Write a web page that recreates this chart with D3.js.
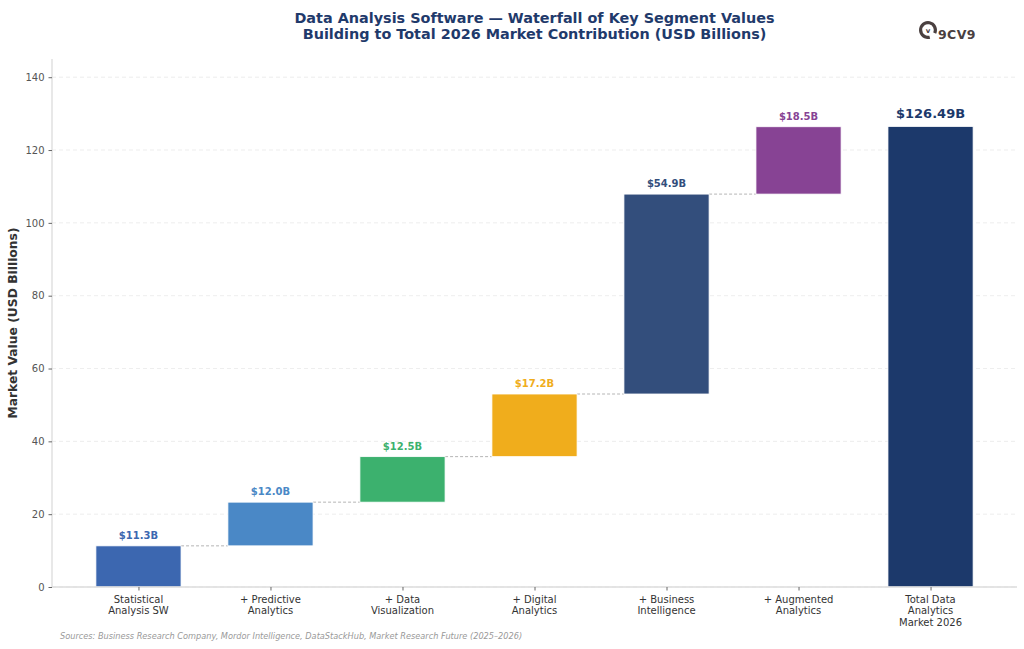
<!DOCTYPE html>
<html>
<head>
<meta charset="utf-8">
<script src="https://cdn.jsdelivr.net/npm/d3@7"></script>
<style>
  body { margin: 0; background: #fff; }
  svg { display: block; font-family: "DejaVu Sans", sans-serif; }
</style>
</head>
<body>
<svg id="chart" width="1024" height="649"></svg>
<script>
// data
const categories = [
  ["Statistical", "Analysis SW"],
  ["+ Predictive", "Analytics"],
  ["+ Data", "Visualization"],
  ["+ Digital", "Analytics"],
  ["+ Business", "Intelligence"],
  ["+ Augmented", "Analytics"],
  ["Total Data", "Analytics", "Market 2026"]
];
const segmentValues = [11.3, 12.0, 12.5, 17.2, 54.9, 18.5];
const totalValue = 126.49;
const valueLabels = ["$11.3B", "$12.0B", "$12.5B", "$17.2B", "$54.9B", "$18.5B", "$126.49B"];
const barColors = ["#3c67b0", "#4a88c6", "#3cb16e", "#f0ad1c", "#334e7c", "#874394", "#1c396b"];
const yTicks = [0, 20, 40, 60, 80, 100, 120, 140];

// build waterfall rows
let running = 0;
const rows = segmentValues.map((v, i) => {
  const r = { i: i, base: running, top: running + v };
  running += v;
  return r;
});
rows.push({ i: 6, base: 0, top: totalValue, total: true });

const svg = d3.select("#chart");
const plotL = 52, plotR = 1017, plotT = 59, plotB = 587;

const x = d3.scalePoint().domain(d3.range(categories.length)).range([plotL, plotR]).padding(0.655);
const step = x.step();
const bw = step * 0.645;
const y = d3.scaleLinear().domain([0, 145]).range([plotB, plotT]);

// grid
svg.append("g").selectAll("line").data(yTicks).enter().append("line")
  .attr("x1", plotL).attr("x2", plotR)
  .attr("y1", d => y(d)).attr("y2", d => y(d))
  .attr("stroke", "#e8e8e8").attr("stroke-width", 0.8).attr("stroke-dasharray", "4,3");

// connectors (segments only, none into the total bar)
svg.append("g").selectAll("line").data(rows.slice(0, segmentValues.length - 1)).enter().append("line")
  .attr("x1", d => x(d.i) + bw / 2).attr("x2", d => x(d.i + 1) - bw / 2)
  .attr("y1", d => y(d.top)).attr("y2", d => y(d.top))
  .attr("stroke", "#b5b5b5").attr("stroke-width", 1).attr("stroke-dasharray", "3,2");

// bars
svg.append("g").selectAll("rect").data(rows).enter().append("rect")
  .attr("x", d => x(d.i) - bw / 2)
  .attr("width", bw)
  .attr("y", d => y(d.top))
  .attr("height", d => y(d.base) - y(d.top))
  .attr("fill", d => barColors[d.i])
  .attr("stroke", "#fff").attr("stroke-width", 0.8);

// value labels
svg.append("g").selectAll("text").data(rows).enter().append("text")
  .attr("x", d => x(d.i))
  .attr("y", d => y(d.top) - (d.total ? 8 : 7))
  .attr("text-anchor", "middle")
  .attr("font-weight", "bold")
  .attr("font-size", d => d.total ? 13 : 10)
  .attr("fill", d => barColors[d.i])
  .text(d => valueLabels[d.i]);

// axes
const yAxis = svg.append("g").attr("transform", "translate(" + plotL + ",0)")
  .call(d3.axisLeft(y).tickValues(yTicks).tickSize(3.5).tickPadding(4));
yAxis.select(".domain").attr("d", "M0," + plotB + "V" + plotT).attr("stroke", "#dcdcdc").attr("stroke-width", 1.3);
yAxis.selectAll(".tick line").attr("stroke", "#666");
yAxis.selectAll("text").attr("font-size", 10).attr("fill", "#555").attr("font-family", "DejaVu Sans");

const xAxis = svg.append("g").attr("transform", "translate(0," + plotB + ")")
  .call(d3.axisBottom(x).tickSize(3.5).tickFormat(""));
xAxis.select(".domain").attr("d", "M" + plotL + ",0H" + plotR).attr("stroke", "#dcdcdc").attr("stroke-width", 1.3);
xAxis.selectAll(".tick line").attr("stroke", "#666");

const xl = svg.append("g").selectAll("text").data(categories).enter().append("text")
  .attr("x", (d, i) => x(i))
  .attr("y", plotB + 15.5)
  .attr("text-anchor", "middle")
  .attr("font-size", 10)
  .attr("fill", "#333");
xl.each(function(lines) {
  const t = d3.select(this);
  lines.forEach((s, k) => {
    t.append("tspan").attr("x", t.attr("x")).attr("dy", k === 0 ? 0 : 11.5).text(s);
  });
});

// y label
svg.append("text")
  .attr("transform", "translate(17," + ((plotT + plotB) / 2) + ") rotate(-90)")
  .attr("text-anchor", "middle")
  .attr("font-size", 12.3).attr("font-weight", "bold").attr("fill", "#333")
  .text("Market Value (USD Billions)");

// title
const title = svg.append("text").attr("text-anchor", "middle")
  .attr("font-size", 14.4).attr("font-weight", "bold").attr("fill", "#1f3a6b");
title.append("tspan").attr("x", (plotL + plotR) / 2).attr("y", 23).text("Data Analysis Software \u2014 Waterfall of Key Segment Values");
title.append("tspan").attr("x", (plotL + plotR) / 2).attr("y", 39).text("Building to Total 2026 Market Contribution (USD Billions)");

// source
svg.append("text").attr("x", 60).attr("y", 639)
  .attr("font-size", 8.2).attr("font-style", "italic").attr("fill", "#999")
  .text("Sources: Business Research Company, Mordor Intelligence, DataStackHub, Market Research Future (2025\u20132026)");

// logo
const logo = svg.append("g").attr("transform", "translate(928,30)");
logo.append("path")
  .attr("d", d3.arc().innerRadius(5.8).outerRadius(9).startAngle(2.9).endAngle(2.9 + Math.PI * 2 - 0.9)())
  .attr("fill", "#4a4040");
logo.append("text").attr("x", 0).attr("y", 2.5).attr("text-anchor", "middle")
  .attr("font-size", 7).attr("font-weight", "bold").attr("fill", "#4a4040").text("v");
logo.append("text").attr("x", 10).attr("y", 8.5).attr("font-size", 12.5).attr("font-weight", "bold")
  .attr("letter-spacing", 0.4).attr("fill", "#4a4040").text("9CV9");
</script>
</body>
</html>
